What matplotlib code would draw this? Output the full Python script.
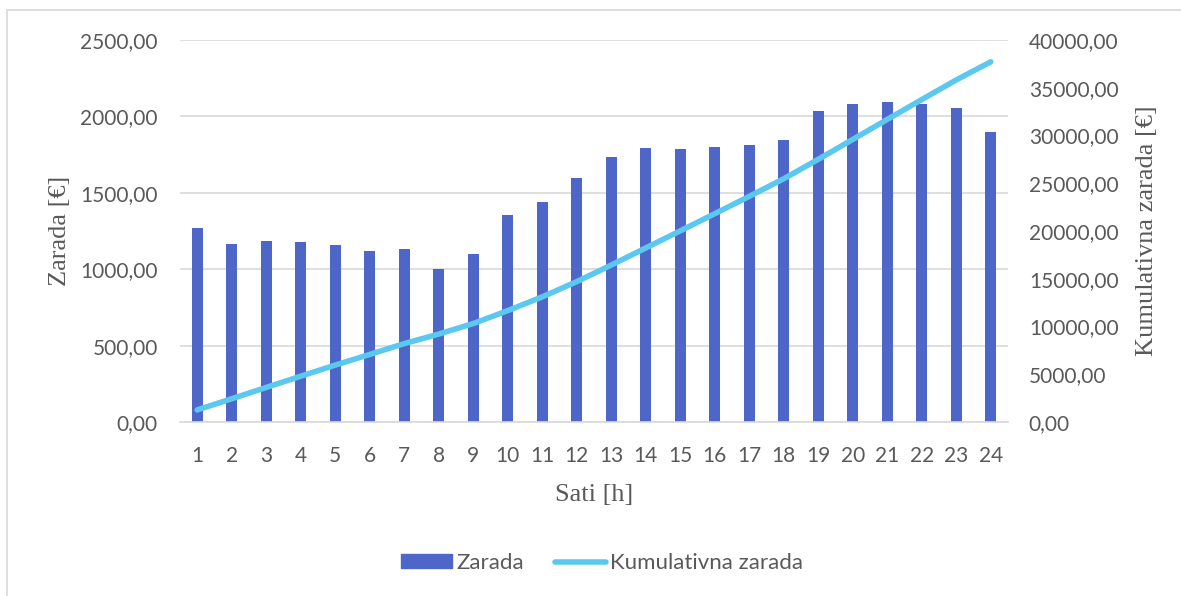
import numpy as np
import matplotlib
matplotlib.use("Agg")
import matplotlib.pyplot as plt
from matplotlib.ticker import FuncFormatter, MultipleLocator
from matplotlib.patches import Rectangle
from matplotlib.lines import Line2D

hours = list(range(1, 25))
zarada = [1270, 1165, 1185, 1178, 1158, 1119, 1132, 1001, 1100, 1355, 1440, 1597,
          1734, 1793, 1787, 1800, 1813, 1846, 2035, 2081, 2094, 2081, 2055, 1898]
kumulativna = np.cumsum(zarada)

bar_color = "#4E66C7"
line_color = "#5BC8EF"
text_color = "#595959"
grid_color = "#D9D9D9"
tick_font = "Lato"
label_font = "Liberation Serif"

fig = plt.figure(figsize=(11.81, 5.96), dpi=100)
fig.patches.append(Rectangle((7/1181, -0.1), 1.1, 1 - 10/596 + 0.1, transform=fig.transFigure,
                             fill=False, edgecolor="#D9D9D9", linewidth=1.2))

ax = fig.add_axes([180/1181, 1 - 422/596, 828/1181, 382/596])
ax2 = ax.twinx()

ax.bar(hours, zarada, width=0.32, color=bar_color, zorder=2)
ax2.plot(hours, kumulativna, color=line_color, linewidth=4, solid_capstyle="round", zorder=3)

ax.set_xlim(0.5, 24.5)
ax.set_ylim(0, 2500)
ax2.set_ylim(0, 40000)
ax.yaxis.set_major_locator(MultipleLocator(500))
ax2.yaxis.set_major_locator(MultipleLocator(5000))
fmt = FuncFormatter(lambda v, p: f"{v:.2f}".replace(".", ","))
ax.yaxis.set_major_formatter(fmt)
ax2.yaxis.set_major_formatter(fmt)
ax.set_xticks(hours)
ax.set_xticklabels([str(h) for h in hours])

ax.grid(axis="y", color=grid_color, linewidth=1.2, zorder=0)
ax.set_axisbelow(True)
for a in (ax, ax2):
    for s in a.spines.values():
        s.set_visible(False)
    a.tick_params(length=0, colors=text_color, labelsize=15)
    for lab in a.get_xticklabels() + a.get_yticklabels():
        lab.set_fontfamily(tick_font)
ax.spines["bottom"].set_visible(True)
ax.spines["bottom"].set_color(grid_color)
ax.spines["bottom"].set_linewidth(1.2)
ax.tick_params(axis="y", pad=16)
ax2.tick_params(axis="y", pad=15)
ax.tick_params(axis="x", pad=17)

ax.set_ylabel("Zarada [€]", fontfamily=label_font, fontsize=19, color=text_color)
ax2.set_ylabel("Kumulativna zarada [€]", fontfamily=label_font, fontsize=19, color=text_color)
ax.set_xlabel("Sati [h]", fontfamily=label_font, fontsize=19, color=text_color, labelpad=13)
ax.yaxis.set_label_coords((71 - 180) / 828, 0.5)
ax2.yaxis.set_label_coords((1136 - 180) / 828, 0.5)

handles = [Rectangle((0, 0), 1, 1, color=bar_color),
           Line2D([0], [0], color=line_color, linewidth=4, solid_capstyle="round")]
fig.legend(handles, ["Zarada", "Kumulativna zarada"], loc="center", bbox_to_anchor=(0.5097, 1 - 563/596),
           ncol=2, frameon=False, prop={"family": tick_font, "size": 16}, labelcolor=text_color,
           handlelength=2.3, handleheight=0.55, handletextpad=0.2, columnspacing=1.4)

fig.savefig("out.png", dpi=100)
